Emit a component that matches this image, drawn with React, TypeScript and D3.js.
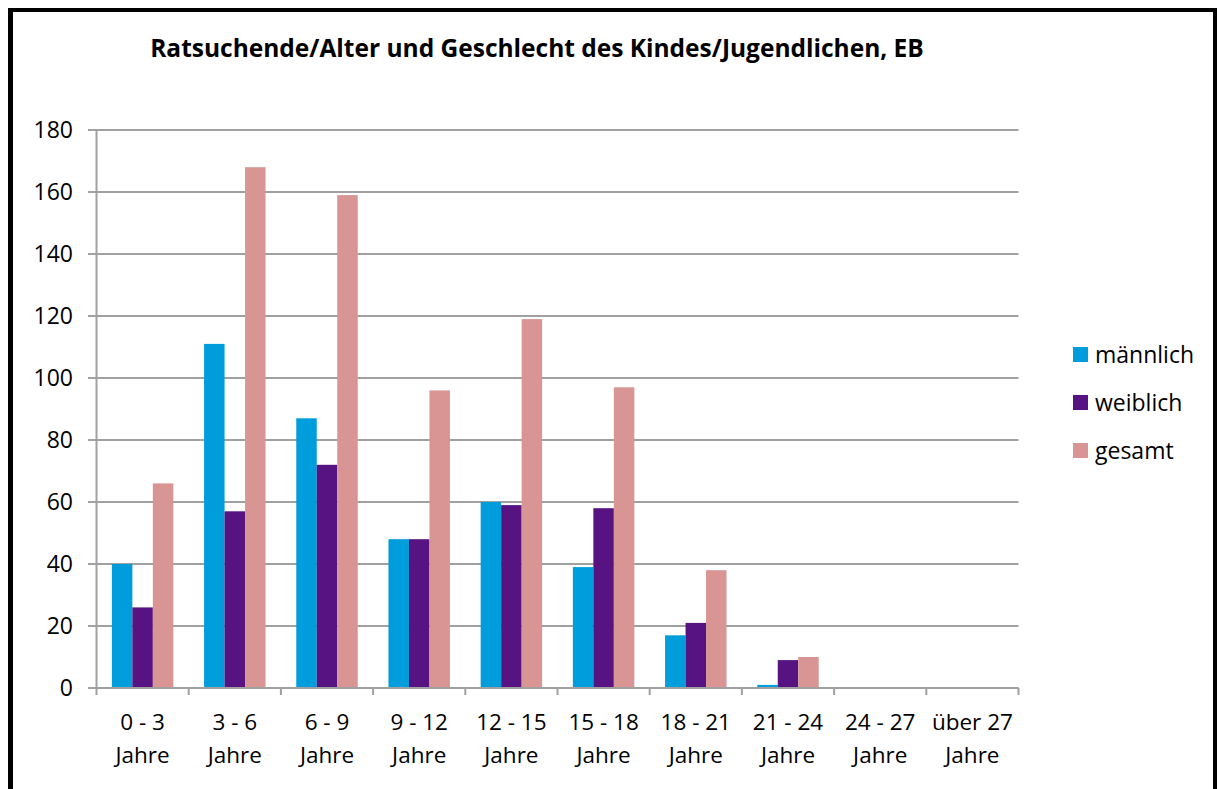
import React from "react";
import * as d3 from "d3";

const categories = ["0 - 3|Jahre", "3 - 6|Jahre", "6 - 9|Jahre", "9 - 12|Jahre", "12 - 15|Jahre", "15 - 18|Jahre", "18 - 21|Jahre", "21 - 24|Jahre", "24 - 27|Jahre", "über 27|Jahre"];
const maennlich = [40, 111, 87, 48, 60, 39, 17, 1, 0, 0];
const weiblich = [26, 57, 72, 48, 59, 58, 21, 9, 0, 0];
const gesamt = [66, 168, 159, 96, 119, 97, 38, 10, 0, 0];
const seriesNames = ["männlich", "weiblich", "gesamt"];
const colors = ["#009DDC", "#561381", "#D99594"];
const yTicks = [0, 20, 40, 60, 80, 100, 120, 140, 160, 180];
const title = "Ratsuchende/Alter und Geschlecht des Kindes/Jugendlichen, EB";

const FONT = "'Open Sans', sans-serif";

export default function App() {
  const W = 1219, H = 789;
  const left = 96.5, right = 1018.5, top = 130, bottom = 688;
  const x = d3.scaleBand<string>().domain(categories).range([left, right]).paddingInner(0).paddingOuter(0);
  const y = d3.scaleLinear().domain([0, 180]).range([bottom, top]);
  const bw = x.bandwidth();
  const inner = d3.scaleBand<number>().domain([0, 1, 2]).range([0, bw]).paddingInner(0).paddingOuter(0.75);
  const series = [maennlich, weiblich, gesamt];
  const grid = "#A0A0A0";

  return (
    <svg width={W} height={H} style={{ position: "absolute", left: 0, top: 0, background: "#fff" }} fontFamily={FONT}>
      <rect x={0} y={0} width={W} height={H} fill="#fff" />
      {/* frame */}
      <line x1={10.5} y1={8} x2={10.5} y2={H} stroke="#000" strokeWidth={5} />
      <line x1={8} y1={10} x2={1217} y2={10} stroke="#000" strokeWidth={4} />
      <line x1={1215} y1={8} x2={1215} y2={H} stroke="#000" strokeWidth={4} />

      <text x={537} y={57} textAnchor="middle" fontSize={24.5} fontWeight="bold" fill="#000">{title}</text>

      {/* gridlines and y ticks */}
      {yTicks.map((t) => (
        <g key={t}>
          <line x1={88} x2={right} y1={y(t)} y2={y(t)} stroke={grid} strokeWidth={2} />
          <text x={73} y={y(t)} dy="0.36em" textAnchor="end" fontSize={23} fill="#000">{t}</text>
        </g>
      ))}
      <line x1={left} x2={left} y1={top} y2={bottom} stroke={grid} strokeWidth={2} />

      {/* bars */}
      {categories.map((c, i) => (
        <g key={c}>
          {series.map((s, k) => {
            const v = s[i];
            if (v <= 0) return null;
            return (
              <rect key={k} x={(x(c) as number) + (inner(k) as number)} y={y(v)} width={inner.bandwidth()} height={bottom - y(v)} fill={colors[k]} />
            );
          })}
        </g>
      ))}

      {/* x axis */}
      <line x1={left} x2={right} y1={bottom} y2={bottom} stroke={grid} strokeWidth={2} />
      {categories.map((c) => (
        <line key={"t" + c} x1={x(c) as number} x2={x(c) as number} y1={bottom} y2={bottom + 7} stroke={grid} strokeWidth={2} />
      ))}
      <line x1={right} x2={right} y1={bottom} y2={bottom + 7} stroke={grid} strokeWidth={2} />
      {categories.map((c) => {
        const [a, b] = c.split("|");
        const cx = (x(c) as number) + bw / 2;
        return (
          <text key={"l" + c} x={cx} textAnchor="middle" fontSize={22.5} fill="#000">
            <tspan x={cx} y={730}>{a}</tspan>
            <tspan x={cx} y={763}>{b}</tspan>
          </text>
        );
      })}

      {/* legend */}
      {seriesNames.map((n, k) => (
        <g key={n}>
          <rect x={1073} y={347 + k * 48} width={15} height={15} fill={colors[k]} />
          <text x={1095} y={355 + k * 48} dy="0.36em" fontSize={23} fill="#000">{n}</text>
        </g>
      ))}
    </svg>
  );
}
